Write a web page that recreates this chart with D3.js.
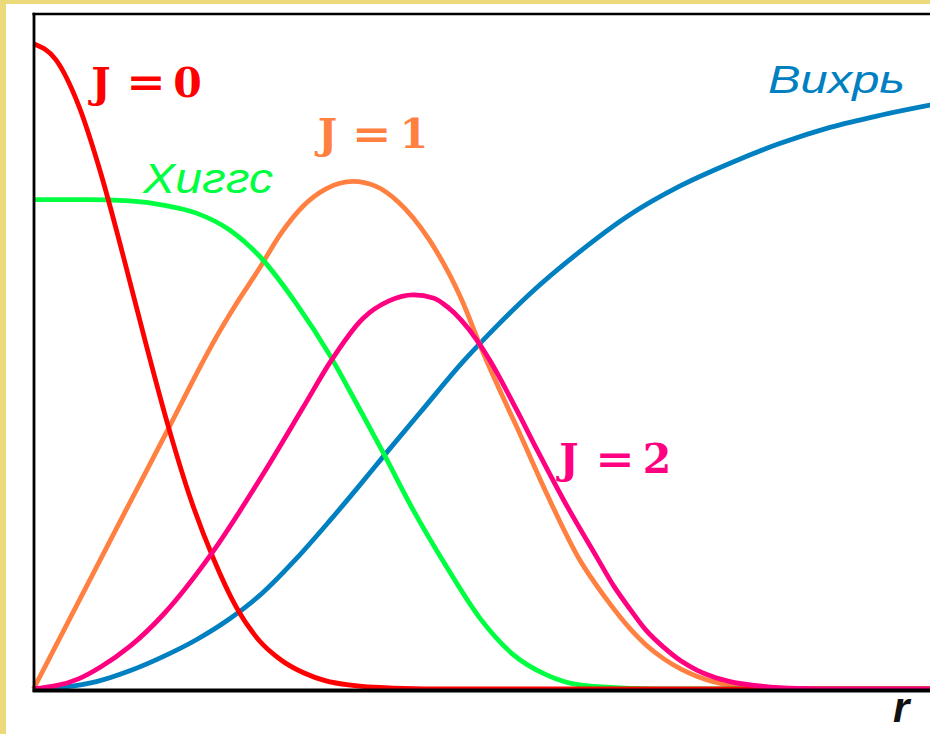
<!DOCTYPE html>
<html>
<head>
<meta charset="utf-8">
<script src="https://cdn.jsdelivr.net/npm/d3@7"></script>
<style>
  html, body { margin: 0; padding: 0; background: #ecd97c; }
  svg { display: block; }
</style>
</head>
<body>
<svg id="chart" width="930" height="734"></svg>
<script>
// Radial profiles of the vortex solution: [r, value] pairs
const profileJ0 = [[0,0.956],[0.25,0.932],[0.5,0.865],[0.75,0.763],[1,0.640],[1.25,0.511],[1.5,0.388],[1.75,0.280],[2,0.193],[2.25,0.122],[2.5,0.073],[2.75,0.043],[3,0.024],[3.25,0.012],[3.5,0.006],[4,0.0013],[4.5,0.0002],[5,0],[10.2,0]];
const profileJ1 = [[0,0],[0.5,0.129],[1,0.258],[1.5,0.386],[1.85,0.477],[2,0.514],[2.25,0.570],[2.5,0.621],[2.75,0.675],[3,0.716],[3.25,0.741],[3.55,0.752],[3.8,0.745],[4.05,0.722],[4.4,0.665],[4.75,0.579],[5,0.497],[5.2,0.437],[5.37,0.388],[5.7,0.290],[6.07,0.191],[6.35,0.136],[6.63,0.089],[6.8,0.066],[7,0.045],[7.2,0.029],[7.37,0.019],[7.55,0.011],[7.74,0.006],[8.1,0.002],[8.5,0],[10.2,0]];
const profileJ2 = [[0,0],[0.5,0.015],[0.75,0.033],[1.07,0.063],[1.44,0.110],[1.97,0.199],[2.55,0.318],[3,0.418],[3.3,0.485],[3.66,0.549],[3.95,0.575],[4.22,0.584],[4.45,0.579],[4.6,0.566],[4.92,0.518],[5.07,0.487],[5.37,0.413],[5.6,0.353],[5.89,0.280],[6.26,0.195],[6.45,0.152],[6.63,0.118],[6.8,0.088],[7,0.062],[7.2,0.041],[7.37,0.028],[7.55,0.018],[7.74,0.011],[8.11,0.004],[8.5,0.001],[9,0],[10.2,0]];
const profileHiggs = [[0,0.725],[0.6,0.725],[1.07,0.723],[1.44,0.717],[1.81,0.705],[2.18,0.680],[2.52,0.640],[2.92,0.571],[3.29,0.495],[3.59,0.423],[3.89,0.349],[4.22,0.265],[4.59,0.181],[4.96,0.105],[5.33,0.051],[5.7,0.021],[6.07,0.006],[6.63,0.001],[7.2,0],[10.2,0]];
const profileVortex = [[0,0],[0.35,0.003],[0.7,0.011],[1.07,0.027],[1.44,0.048],[1.81,0.073],[2.18,0.104],[2.55,0.143],[2.92,0.193],[3.29,0.249],[3.6,0.298],[3.89,0.345],[4.33,0.415],[4.78,0.486],[5.15,0.538],[5.52,0.586],[6.07,0.648],[6.63,0.703],[7.18,0.745],[7.74,0.779],[8.29,0.808],[8.85,0.832],[9.41,0.850],[9.96,0.865],[10.2,0.871]];

const seriesNames = ["Вихрь", "J = 1", "Хиггс", "J = 0", "J = 2"];
const seriesData = [profileVortex, profileJ1, profileHiggs, profileJ0, profileJ2];
const seriesColors = ["#0080c0", "#ff8040", "#00ff40", "#ff0000", "#ff0080"];
const axisLabel = "r";

const svg = d3.select("#chart");

// white sheet on the yellow page
svg.append("rect").attr("x", 6).attr("y", 4).attr("width", 940).attr("height", 740).attr("fill", "#ffffff");

const x = d3.scaleLinear().domain([0, 10]).range([33.5, 933.5]);
const y = d3.scaleLinear().domain([0, 1]).range([689, 14]);

const line = d3.line()
  .x(d => x(d[0]))
  .y(d => y(d[1]))
  .curve(d3.curveMonotoneX);

svg.append("g")
  .selectAll("path")
  .data(seriesData)
  .join("path")
  .attr("d", line)
  .attr("fill", "none")
  .attr("stroke", (d, i) => seriesColors[i])
  .attr("stroke-width", 4.8)
  .attr("stroke-linejoin", "round");

// frame: top and left thin, bottom axis heavier
const frame = svg.append("g").attr("stroke", "#000");
frame.append("line").attr("x1", 32.5).attr("x2", 935).attr("y1", 14).attr("y2", 14).attr("stroke-width", 2.6);
frame.append("line").attr("x1", 34).attr("x2", 34).attr("y1", 12.7).attr("y2", 692).attr("stroke-width", 2.8);
frame.append("line").attr("x1", 32.6).attr("x2", 935).attr("y1", 690.5).attr("y2", 690.5).attr("stroke-width", 4);

// "J = n" labels, bold serif, each glyph placed separately
const serif = "'DejaVu Serif', 'Liberation Serif', serif";
function jLabel(name, color, cx, baseline) {
  const parts = name.split(" ");
  const g = svg.append("g").attr("fill", color).attr("font-family", serif).attr("font-weight", "bold").attr("font-size", 41).attr("text-anchor", "middle");
  g.append("text").attr("x", cx[0]).attr("y", baseline).text(parts[0]);
  g.append("text").attr("x", cx[1]).attr("y", baseline).attr("transform", `translate(${cx[1]},0) scale(1.15,1) translate(${-cx[1]},0)`).text(parts[1]);
  g.append("text").attr("x", cx[2]).attr("y", baseline).text(parts[2]);
}
jLabel(seriesNames[3], seriesColors[3], [101, 146, 187.5], 96.5);
jLabel(seriesNames[1], seriesColors[1], [327.5, 371.7, 414], 148.3);
jLabel(seriesNames[4], seriesColors[4], [569, 615, 657], 473.3);

// italic sans labels
const sans = "'Liberation Sans', Arial, sans-serif";
svg.append("text").attr("x", 143).attr("y", 193.3)
  .attr("font-family", sans).attr("font-style", "italic").attr("font-size", 42)
  .attr("fill", seriesColors[2])
  .attr("textLength", 130).attr("lengthAdjust", "spacingAndGlyphs")
  .text(seriesNames[2]);
svg.append("text").attr("x", 768).attr("y", 93.3)
  .attr("font-family", sans).attr("font-style", "italic").attr("font-size", 39.5)
  .attr("fill", seriesColors[0])
  .attr("textLength", 137).attr("lengthAdjust", "spacingAndGlyphs")
  .text(seriesNames[0]);

// axis label
svg.append("text").attr("x", 893).attr("y", 721.7)
  .attr("font-family", sans).attr("font-style", "italic").attr("font-weight", "bold").attr("font-size", 42)
  .attr("fill", "#111")
  .text(axisLabel);
</script>
</body>
</html>
